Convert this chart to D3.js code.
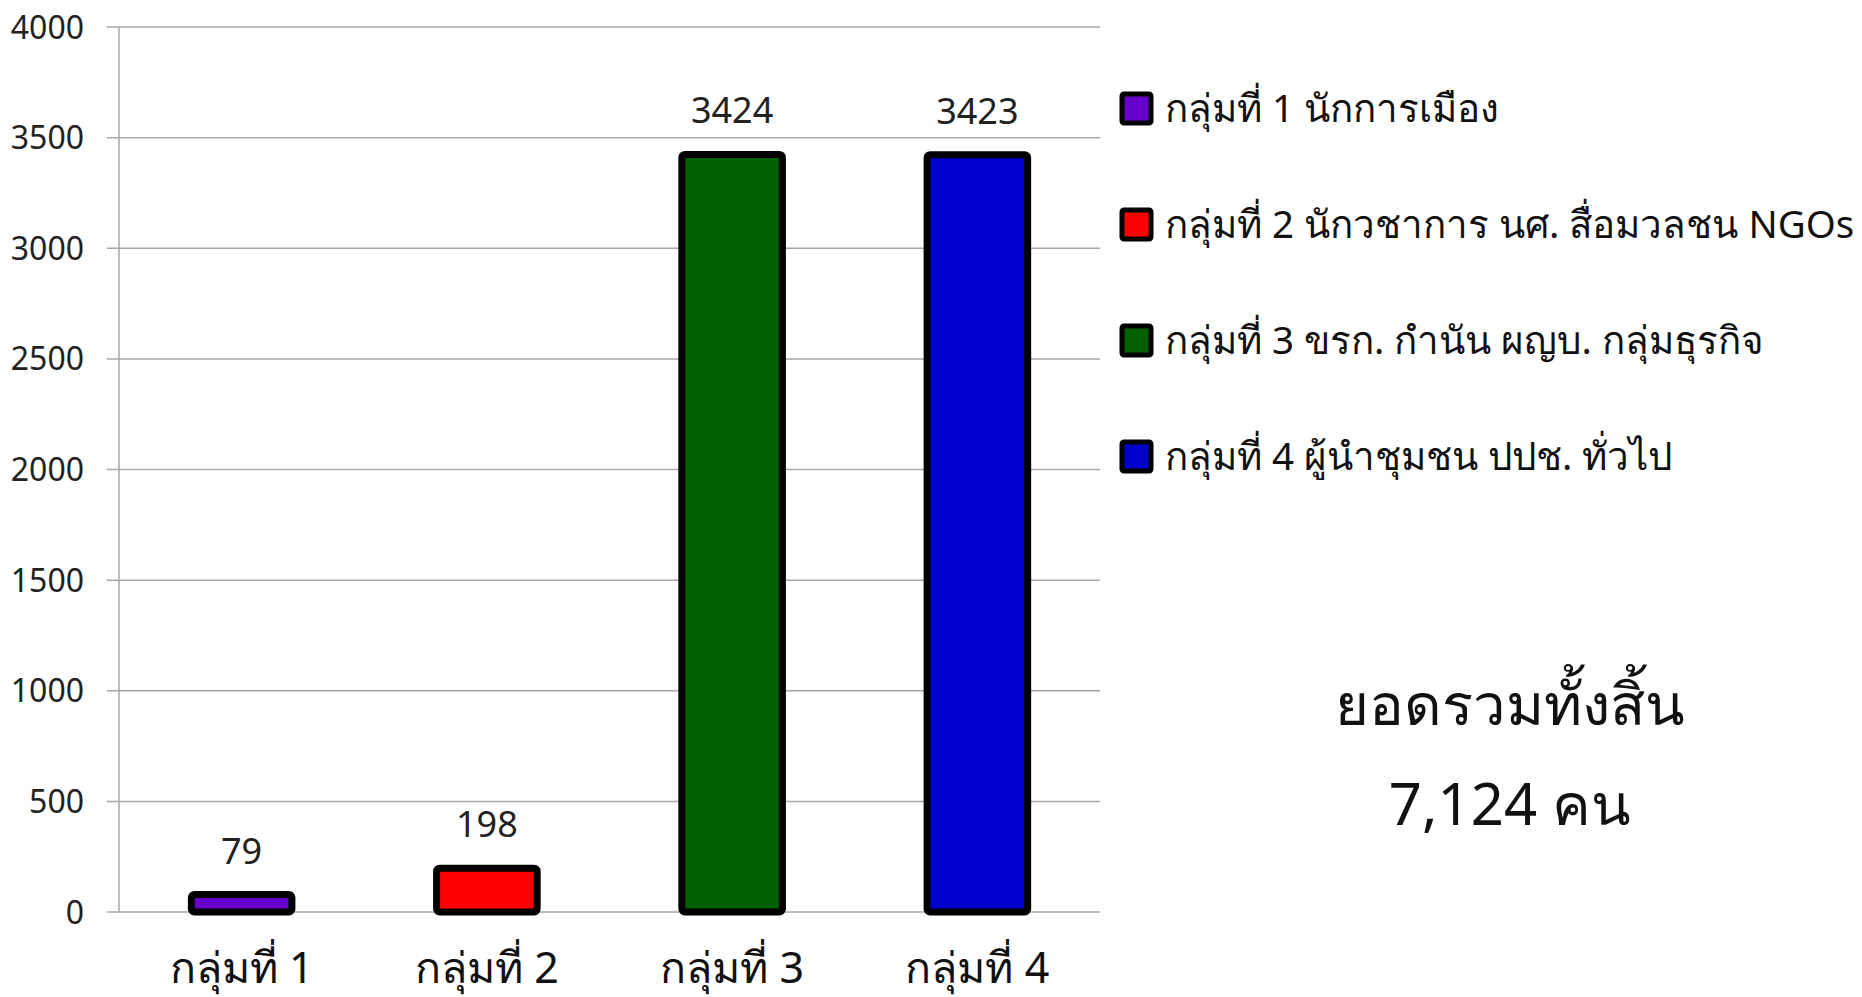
<!DOCTYPE html>
<html>
<head>
<meta charset="utf-8">
<script src="https://cdn.jsdelivr.net/npm/d3@7"></script>
<style>
  html, body { margin: 0; padding: 0; background: #fff; }
  svg { display: block; font-family: Tahoma, 'Noto Sans', 'DejaVu Sans', sans-serif; }
</style>
</head>
<body>
<div id="chart"></div>
<script>
const categories = ['กลุ่มที่ 1', 'กลุ่มที่ 2', 'กลุ่มที่ 3', 'กลุ่มที่ 4']
const values = [79, 198, 3424, 3423]
const legendLabels = [
  'กลุ่มที่ 1 นักการเมือง',
  'กลุ่มที่ 2 นักวชาการ นศ. สื่อมวลชน NGOs',
  'กลุ่มที่ 3 ขรก. กำนัน ผญบ. กลุ่มธุรกิจ',
  'กลุ่มที่ 4 ผู้นำชุมชน ปปช. ทั่วไป'
]
const colors = ['#6600cc', '#ff0000', '#006100', '#0000cc']
const yTicks = [0, 500, 1000, 1500, 2000, 2500, 3000, 3500, 4000]
const totalLines = ['ยอดรวมทั้งสิ้น', '7,124 คน']

const W = 1862, H = 997
const svg = d3.select('#chart').append('svg').attr('width', W).attr('height', H)

const x = d3.scaleBand().domain(categories).range([119, 1100]).paddingInner(0.59).paddingOuter(0.295)
const y = d3.scaleLinear().domain([0, 4000]).range([912, 27])

// gridlines + y labels
const grid = svg.append('g')
yTicks.forEach(t => {
  grid.append('line')
    .attr('x1', 107).attr('x2', 1100)
    .attr('y1', y(t)).attr('y2', y(t))
    .attr('stroke', '#a6a6a6').attr('stroke-width', 1.5)
  grid.append('text')
    .attr('x', 84).attr('y', y(t)).attr('dy', '0.36em')
    .attr('text-anchor', 'end').attr('font-size', 32).attr('fill', '#222')
    .text(t)
})
svg.append('line')
  .attr('x1', 119).attr('x2', 119).attr('y1', y(4000)).attr('y2', y(0))
  .attr('stroke', '#a6a6a6').attr('stroke-width', 1.5)

// bars
categories.forEach((c, i) => {
  svg.append('rect')
    .attr('x', x(c)).attr('y', y(values[i]))
    .attr('width', x.bandwidth()).attr('height', y(0) - y(values[i]))
    .attr('rx', 3)
    .attr('fill', colors[i]).attr('stroke', '#000').attr('stroke-width', 7)
  svg.append('text')
    .attr('x', x(c) + x.bandwidth() / 2).attr('y', y(values[i]) - 31)
    .attr('text-anchor', 'middle').attr('font-size', 36).attr('fill', '#222')
    .text(values[i])
  svg.append('text')
    .attr('x', x(c) + x.bandwidth() / 2).attr('y', 983)
    .attr('text-anchor', 'middle').attr('font-size', 43).attr('fill', '#111')
    .text(c)
})

// legend
const legend = svg.append('g').attr('transform', 'translate(1122, 108)')
legendLabels.forEach((l, i) => {
  const g = legend.append('g').attr('transform', `translate(0, ${i * 116})`)
  g.append('rect').attr('x', 0).attr('y', -14).attr('width', 29).attr('height', 29)
    .attr('rx', 2)
    .attr('fill', colors[i]).attr('stroke', '#000').attr('stroke-width', 5)
  g.append('text').attr('x', 43).attr('y', 0).attr('dy', '0.36em')
    .attr('font-size', 38.5).attr('fill', '#111').text(l)
})

// total
totalLines.forEach((t, i) => {
  svg.append('text')
    .attr('x', 1510).attr('y', 725 + i * 100)
    .attr('text-anchor', 'middle').attr('font-size', 58).attr('fill', '#111')
    .text(t)
})
</script>
</body>
</html>
